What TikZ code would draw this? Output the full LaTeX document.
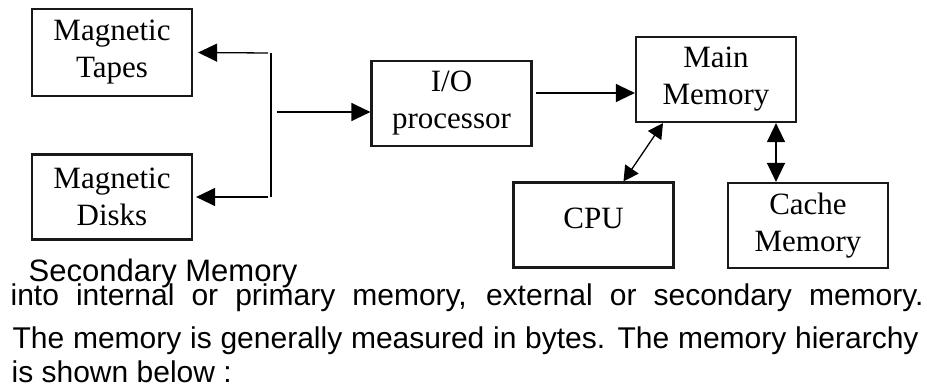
\documentclass[tikz,border=0pt]{standalone}
\usepackage{fontspec}
\setmainfont{Liberation Serif}
\setsansfont{Liberation Sans}
\usetikzlibrary{arrows.meta}

\begin{document}
\begin{tikzpicture}
  [x=1pt, y=-1pt, >={Triangle[length=19pt,width=18pt]},
    line width=1.3pt,
    unit/.style={
      rectangle, draw=black!90, line width=2.2pt, inner sep=0pt,
      minimum width=160pt, minimum height=85pt, align=center,
      font=\fontsize{31}{37}\selectfont
    },
    small/.style={{Triangle[length=15pt,width=16pt]}-{Triangle[length=15pt,width=16pt]}},
    body/.style={
      anchor=base west, inner sep=0pt,
      font=\sffamily\fontsize{30}{34}\selectfont
    },
  ]
  \useasboundingbox (0,0) rectangle (927,388);

  % Memory units
  \node[unit, minimum height=87pt] (tapes) at (112,52.5) {Magnetic\\Tapes};
  \node[unit] (disks) at (112,197) {Magnetic\\Disks};
  \node[unit] (io) at (451.5,103.5) {I/O\\processor};
  \node[unit] (main) at (716,79.5) {Main\\Memory};
  \node[unit, text depth=14pt] (cpu) at (593.5,225) {CPU};
  \node[unit] (cache) at (808,225.5) {Cache\\Memory};

  % Bus on the secondary side
  \coordinate (bt) at (271,53);
  \coordinate (bb) at (271,197);
  \coordinate (bus) at (277,112);
  \coordinate (iout) at (536,93);
  \draw (bt) -- (bb);

  % Edges between nodes
  \draw[->] ([xshift=-3pt]bt) -- ([xshift=5pt]tapes.east);
  \draw[->] ([xshift=-3pt]bb) -- ([xshift=3pt]disks.east);
  \draw[->] (bus) -- (bus -| io.west);
  \draw[->] (iout) -- (iout -| main.west);
  \draw[small] ([xshift=30pt]cpu.north) -- ([xshift=-53pt]main.south);
  \draw[<->] ([xshift=60pt]main.south) -- ([xshift=60pt]main.south |- cache.north);

  % Running text
  \node[body, font=\sffamily\fontsize{31}{34}\selectfont] (sec) at (28,281) {Secondary Memory};
  \node[body] (line1) at (10,305)
    {\makebox[913pt][s]{into internal or primary memory, external or secondary memory.}};
  \node[body] (line2) at (12,348)
    {\makebox[906pt][s]{The memory is generally measured in bytes. The memory hierarchy}};
  \node[body] (line3) at (11,382) {is shown below :};
\end{tikzpicture}
\end{document}
